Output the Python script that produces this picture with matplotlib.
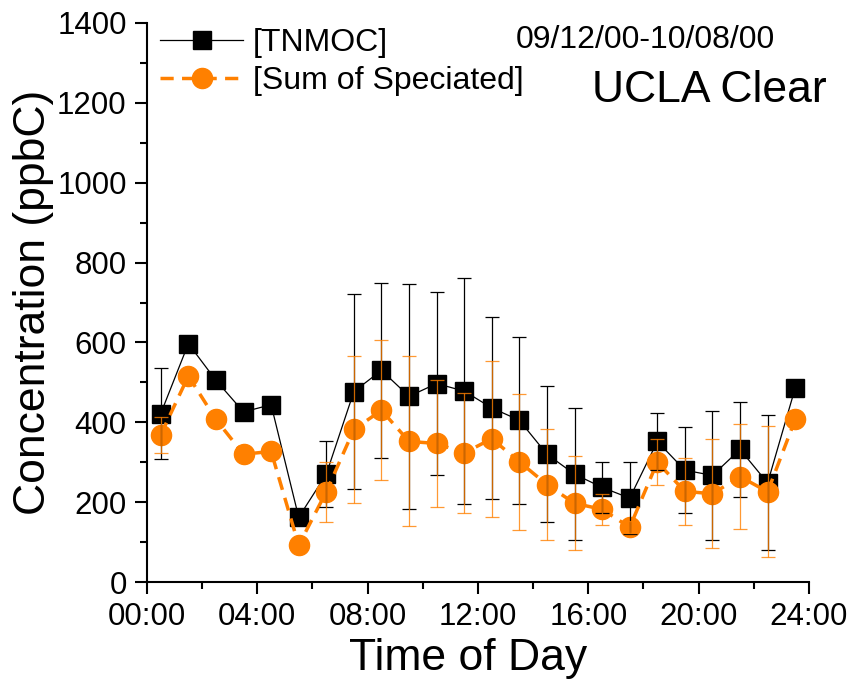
import numpy as np
import matplotlib
matplotlib.use("Agg")
import matplotlib.pyplot as plt
from matplotlib.ticker import MultipleLocator, FuncFormatter

plt.rcParams['font.family'] = ['Liberation Sans', 'DejaVu Sans']

# hour of day (bin centres)
HOURS = np.arange(0.5, 24, 1.0)

TNMOC     = [422, 597, 505, 426, 444, 162, 270, 477, 530, 465, 497, 478,
             436, 405, 320, 270, 237, 210, 352, 280, 267, 332, 248, 486]
TNMOC_ERR = [115, np.nan, np.nan, np.nan, np.nan, np.nan, 82, 244, 220, 282, 230, 283,
             228, 209, 170, 165, 63, 90, 71, 108, 162, 120, 169, np.nan]

SPECIATED     = [369, 516, 407, 320, 327, 92, 226, 382, 430, 352, 347, 323,
                 359, 301, 244, 197, 182, 137, 300, 227, 221, 264, 226, 407]
SPECIATED_ERR = [45, np.nan, np.nan, np.nan, np.nan, np.nan, 75, 185, 175, 213, 160, 150,
                 195, 170, 140, 118, 38, 15, 58, 84, 136, 132, 164, np.nan]

ORANGE = '#ff8000'

fig = plt.figure(figsize=(8.54, 6.92), dpi=100)
ax = fig.add_axes([147/854, 1 - 582/692, 662/854, 559/692])

ax.plot(HOURS, TNMOC, '-', color='black', lw=0.9, marker='s', ms=12.5,
        mfc='black', mec='black', label='[TNMOC]', zorder=2)
ax.plot(HOURS, SPECIATED, '--', color=ORANGE, lw=2.5, dashes=(3.8, 2.4), marker='o', ms=14.5,
        mfc=ORANGE, mec=ORANGE, label='[Sum of Speciated]', zorder=2.5)

ax.errorbar(HOURS, TNMOC, yerr=TNMOC_ERR, fmt='none', ecolor='black',
            elinewidth=0.9, capsize=5, capthick=0.9, zorder=3)
ax.errorbar(HOURS, SPECIATED, yerr=SPECIATED_ERR, fmt='none', ecolor=ORANGE,
            elinewidth=0.9, capsize=5, capthick=0.9, alpha=0.8, zorder=4)

ax.set_xlim(0, 24)
ax.set_ylim(0, 1400)
ax.xaxis.set_major_locator(MultipleLocator(4))
ax.xaxis.set_minor_locator(MultipleLocator(2))
ax.xaxis.set_major_formatter(FuncFormatter(lambda v, p: '%02d:00' % int(round(v))))
ax.yaxis.set_major_locator(MultipleLocator(200))
ax.yaxis.set_minor_locator(MultipleLocator(100))

for side in ['top', 'right']:
    ax.spines[side].set_visible(False)
for side in ['left', 'bottom']:
    ax.spines[side].set_linewidth(1.5)

ax.tick_params(which='major', direction='out', length=8.6, width=1.5, labelsize=22.5, pad=6)
ax.tick_params(which='minor', direction='out', length=5, width=1.5)

ax.set_xlabel('Time of Day', fontsize=32)
ax.set_ylabel('Concentration (ppbC)', fontsize=32, labelpad=2)
ax.xaxis.set_label_coords(0.485, -0.10)

ax.legend(loc='upper left', bbox_to_anchor=(-0.009, 1.025), frameon=False, fontsize=23,
          handlelength=2.6, handletextpad=0.3, labelspacing=0.25, borderaxespad=0.2)

ax.text(0.557, 0.970, '09/12/00-10/08/00', transform=ax.transAxes, fontsize=23,
        ha='left', va='center')
ax.text(0.672, 0.880, 'UCLA Clear', transform=ax.transAxes, fontsize=32,
        ha='left', va='center')

fig.savefig('out.png', dpi=100)
